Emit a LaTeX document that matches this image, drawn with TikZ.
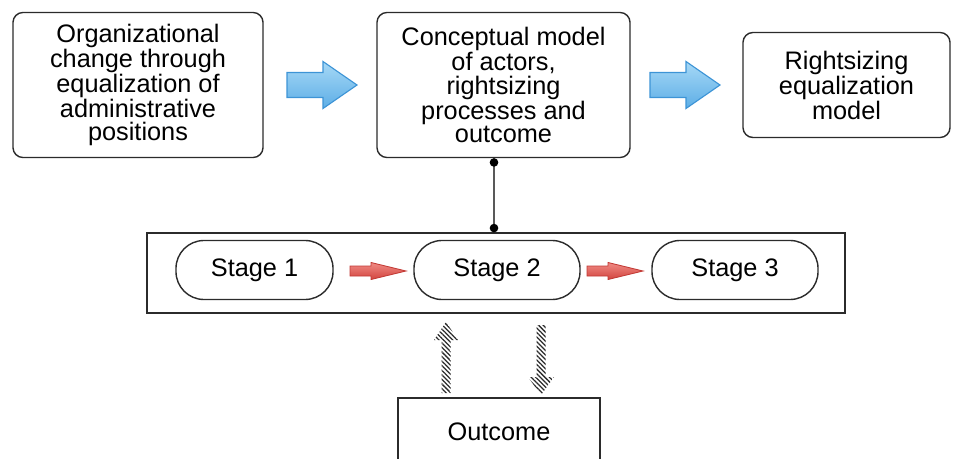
\documentclass[tikz,border=0pt]{standalone}
\usepackage{fontspec}
\setmainfont{Liberation Sans}
\usetikzlibrary{patterns.meta,arrows.meta}
\definecolor{boxline}{HTML}{2B2B2B}
\definecolor{bluetop}{HTML}{A6D8F6}
\definecolor{bluebot}{HTML}{5DAEE6}
\definecolor{blueline}{HTML}{3D94D6}
\definecolor{redtop}{HTML}{F08A84}
\definecolor{redbot}{HTML}{D2453F}
\definecolor{redline}{HTML}{C23A35}
\tikzset{
  bigbox/.style={draw=boxline,line width=1pt,rounded corners=0.25cm,align=center,
    font=\fontsize{18}{16.5}\selectfont,inner sep=0pt},
  stagebox/.style={draw=boxline,line width=1pt,rounded corners=0.7cm,
    minimum height=1.475cm,font=\fontsize{18}{16.5}\selectfont},
  bluearrow/.style={draw=blueline,line width=0.8pt,top color=bluetop,bottom color=bluebot},
  redarrow/.style={draw=redline,line width=0.6pt,top color=redtop,bottom color=redbot},
  hatcharrow/.style={pattern={Lines[angle=-45,distance=2.3pt,line width=0.9pt]},
    pattern color=boxline},
  % block arrow: length / half shaft / head start / half head / look
  pics/blockarr/.style n args={5}{code={
    \path[#5] (0,-#2) -- (#3,-#2) -- (#3,-#4) -- (#1,0) -- (#3,#4) -- (#3,#2) -- (0,#2) -- cycle;
  }}
}
\begin{document}
\begin{tikzpicture}[x=0.025cm,y=-0.025cm]
\useasboundingbox (0,0) rectangle (966,459);
% top row
\node[bigbox,minimum width=6.25cm,minimum height=3.625cm] (change) at (138,85)
  {Organizational\\change through\\equalization of\\administrative\\positions};
\node[bigbox,minimum width=6.325cm,minimum height=3.625cm] (concept) at (503.5,85)
  {Conceptual model\\of actors,\\rightsizing\\processes and\\outcome};
\node[bigbox,minimum width=5.175cm,minimum height=2.625cm] (rightsize) at (846.5,85)
  {Rightsizing\\equalization\\model};
\pic (arr1) at (287,85) {blockarr={70}{12.5}{36}{23.5}{bluearrow}};
\pic (arr2) at (650,85) {blockarr={70}{12.5}{36}{23.5}{bluearrow}};
% stages
\node[draw=boxline,line width=1pt,minimum width=17.45cm,minimum height=2cm] (frame) at (496,273) {};
\node[stagebox,minimum width=3.925cm] (s1) at (254.5,270) {Stage 1};
\node[stagebox,minimum width=4.15cm] (s2) at (497,270) {Stage 2};
\node[stagebox,minimum width=4.15cm] (s3) at (735,270) {Stage 3};
\pic (r1) at (350,271) {blockarr={56}{5}{21}{8.5}{redarrow}};
\pic (r2) at (587,271) {blockarr={56}{5}{21}{8.5}{redarrow}};
\draw[gray!70!black,line width=1.6pt,{Circle[black,length=6pt]}-{Circle[black,length=6pt]}]
  (concept.south -| 494,0) -- (frame.north -| 494,0);
% outcome
\node[draw=boxline,line width=1pt,minimum width=5.05cm,minimum height=1.7cm,
  font=\fontsize{18}{16.5}\selectfont] (outcome) at (499,432) {Outcome};
\pic[rotate=90] (up) at (446,393) {blockarr={71}{4.5}{53}{12}{hatcharrow}};
\pic[rotate=-90] (down) at (541,325) {blockarr={70}{4.5}{52}{13}{hatcharrow}};
\end{tikzpicture}
\end{document}
